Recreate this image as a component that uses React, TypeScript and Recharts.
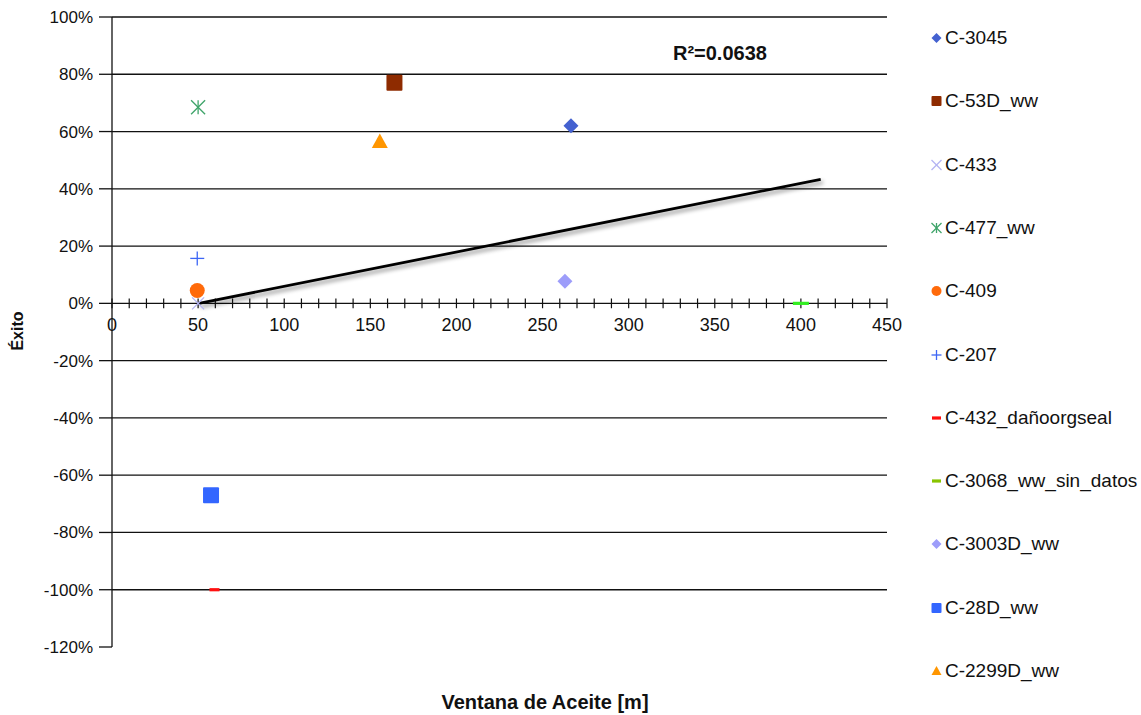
import type { FC } from "react";
import {
  CartesianGrid,
  ReferenceDot,
  ReferenceLine,
  Scatter,
  ScatterChart,
  XAxis,
  YAxis,
} from "recharts";

// pozos y valores
const wells = [
  "C-3045",
  "C-53D_ww",
  "C-433",
  "C-477_ww",
  "C-409",
  "C-207",
  "C-432_dañoorgseal",
  "C-3068_ww_sin_datos",
  "C-3003D_ww",
  "C-28D_ww",
  "C-2299D_ww",
];
const ventana = [266.5, 164, 50, 50, 49.5, 49.5, 59.5, 400, 263, 57.5, 155.5];
const exito = [62, 77, 0, 68.5, 4.5, 15.7, -100, 0, 7.7, -67, 56.5];

// linea de tendencia (extremos leidos)
const trendX = [50.5, 411.5];
const trendY = [0, 43.3];

const yTicks = [100, 80, 60, 40, 20, 0, -20, -40, -60, -80, -100, -120];
const gridValues = [100, 80, 60, 40, 20, -20, -40, -60, -80, -100];
const xLabels = [0, 50, 100, 150, 200, 250, 300, 350, 400, 450];
const xMinor = Array.from({ length: 46 }, (_, i) => i * 10);

type Kind = "diamond" | "square" | "x" | "star" | "circle" | "plus" | "dash" | "triangle";

const styles: { kind: Kind; color: string; size: number; legendColor?: string }[] = [
  { kind: "diamond", color: "#4461d0", size: 7.5 },
  { kind: "square", color: "#8e2b00", size: 8 },
  { kind: "x", color: "#b4b4f2", size: 6 },
  { kind: "star", color: "#3fa46a", size: 7 },
  { kind: "circle", color: "#ff6a0a", size: 7.5 },
  { kind: "plus", color: "#3d66f5", size: 7 },
  { kind: "dash", color: "#ff1010", size: 5 },
  { kind: "dash", color: "#33ee22", size: 8, legendColor: "#88c400" },
  { kind: "diamond", color: "#9d9dfa", size: 7.5 },
  { kind: "square", color: "#3366ff", size: 8 },
  { kind: "triangle", color: "#ff9600", size: 8 },
];

const Marker: FC<{ kind: Kind; cx: number; cy: number; color: string; s: number }> = ({
  kind,
  cx,
  cy,
  color,
  s,
}) => {
  switch (kind) {
    case "diamond":
      return (
        <polygon
          points={`${cx},${cy - s} ${cx + s},${cy} ${cx},${cy + s} ${cx - s},${cy}`}
          fill={color}
        />
      );
    case "square":
      return <rect x={cx - s} y={cy - s} width={2 * s} height={2 * s} rx={1} fill={color} />;
    case "circle":
      return <circle cx={cx} cy={cy} r={s} fill={color} />;
    case "triangle":
      return (
        <polygon
          points={`${cx},${cy - s} ${cx + s},${cy + s * 0.8} ${cx - s},${cy + s * 0.8}`}
          fill={color}
        />
      );
    case "dash":
      return <rect x={cx - s} y={cy - 1.6} width={2 * s} height={3.2} fill={color} />;
    case "plus":
      return (
        <g stroke={color} strokeWidth={1.3}>
          <line x1={cx - s} y1={cy} x2={cx + s} y2={cy} />
          <line x1={cx} y1={cy - s} x2={cx} y2={cy + s} />
        </g>
      );
    case "x":
      return (
        <g stroke={color} strokeWidth={1.3}>
          <line x1={cx - s} y1={cy - s} x2={cx + s} y2={cy + s} />
          <line x1={cx - s} y1={cy + s} x2={cx + s} y2={cy - s} />
        </g>
      );
    case "star":
      return (
        <g stroke={color} strokeWidth={1.3}>
          <line x1={cx - s} y1={cy - s} x2={cx + s} y2={cy + s} />
          <line x1={cx - s} y1={cy + s} x2={cx + s} y2={cy - s} />
          <line x1={cx} y1={cy - s} x2={cx} y2={cy + s} />
        </g>
      );
  }
  return null;
};

const font = "'Liberation Sans', Arial, sans-serif";

export default function App() {
  const trend = trendX.map((x, i) => ({ x, y: trendY[i] }));
  return (
    <div
      style={{
        position: "absolute",
        left: 0,
        top: 0,
        width: 1141,
        height: 715,
        background: "#fff",
        fontFamily: font,
      }}
    >
      <ScatterChart
        width={1141}
        height={715}
        margin={{ top: 17, right: 254, bottom: 68, left: 0 }}
        style={{ fontFamily: font }}
      >
        <CartesianGrid
          vertical={false}
          stroke="#111"
          strokeWidth={1.3}
          horizontalValues={gridValues}
        />
        <XAxis type="number" dataKey="x" domain={[0, 450]} hide />
        <YAxis
          type="number"
          dataKey="y"
          domain={[-120, 100]}
          ticks={yTicks}
          width={112}
          tickSize={13}
          tickMargin={6}
          stroke="#111"
          strokeWidth={1.3}
          tick={{ fill: "#111", fontSize: 17 }}
          tickFormatter={(v: number) => `${v}%`}
        />
        <ReferenceLine y={0} stroke="#111" strokeWidth={1.3} />
        {xMinor.map((v) => (
          <ReferenceLine
            key={`t${v}`}
            segment={[
              { x: v, y: -1.7 },
              { x: v, y: 1.7 },
            ]}
            stroke="#111"
            strokeWidth={1.2}
          />
        ))}
        {xLabels.map((v) => (
          <ReferenceDot
            key={`l${v}`}
            x={v}
            y={0}
            r={1}
            fill="none"
            stroke="none"
            label={{ value: String(v), position: "bottom", offset: 14, fill: "#111", fontSize: 18 }}
          />
        ))}
        <Scatter
          data={trend}
          line={{ stroke: "#000", strokeWidth: 2.8, style: { filter: "drop-shadow(2px 3px 2px rgba(0,0,0,0.45))" } }}
          shape={() => <g />}
          isAnimationActive={false}
        />
        {wells.map((name, i) => (
          <Scatter
            key={name}
            name={name}
            data={[{ x: ventana[i], y: exito[i] }]}
            isAnimationActive={false}
            shape={(p: any) => (
              <Marker kind={styles[i].kind} cx={p.cx} cy={p.cy} color={styles[i].color} s={styles[i].size} />
            )}
          />
        ))}
        <ReferenceDot
          x={353}
          y={87.3}
          r={1}
          fill="none"
          stroke="none"
          label={{ value: "R²=0.0638", position: "center", fill: "#111", fontSize: 20, fontWeight: "bold" }}
        />
      </ScatterChart>

      <div
        style={{
          position: "absolute",
          left: 18,
          top: 331,
          transform: "translate(-50%, -50%) rotate(-90deg)",
          fontWeight: "bold",
          fontSize: 16,
          color: "#111",
        }}
      >
        Éxito
      </div>
      <div
        style={{
          position: "absolute",
          left: 545,
          top: 702,
          transform: "translate(-50%, -50%)",
          fontWeight: "bold",
          fontSize: 20,
          color: "#111",
          whiteSpace: "nowrap",
        }}
      >
        Ventana de Aceite [m]
      </div>

      {wells.map((name, i) => (
        <div
          key={name}
          style={{
            position: "absolute",
            left: 928,
            top: 38 + i * 63.3 - 11,
            height: 22,
            display: "flex",
            alignItems: "center",
            fontSize: 19,
            color: "#111",
            whiteSpace: "nowrap",
          }}
        >
          <svg width={17} height={22}>
            <Marker
              kind={styles[i].kind}
              cx={8.5}
              cy={11}
              color={styles[i].legendColor ?? styles[i].color}
              s={styles[i].kind === "dash" ? 4.5 : 5}
            />
          </svg>
          <span style={{ marginLeft: 0 }}>{name}</span>
        </div>
      ))}
    </div>
  );
}
